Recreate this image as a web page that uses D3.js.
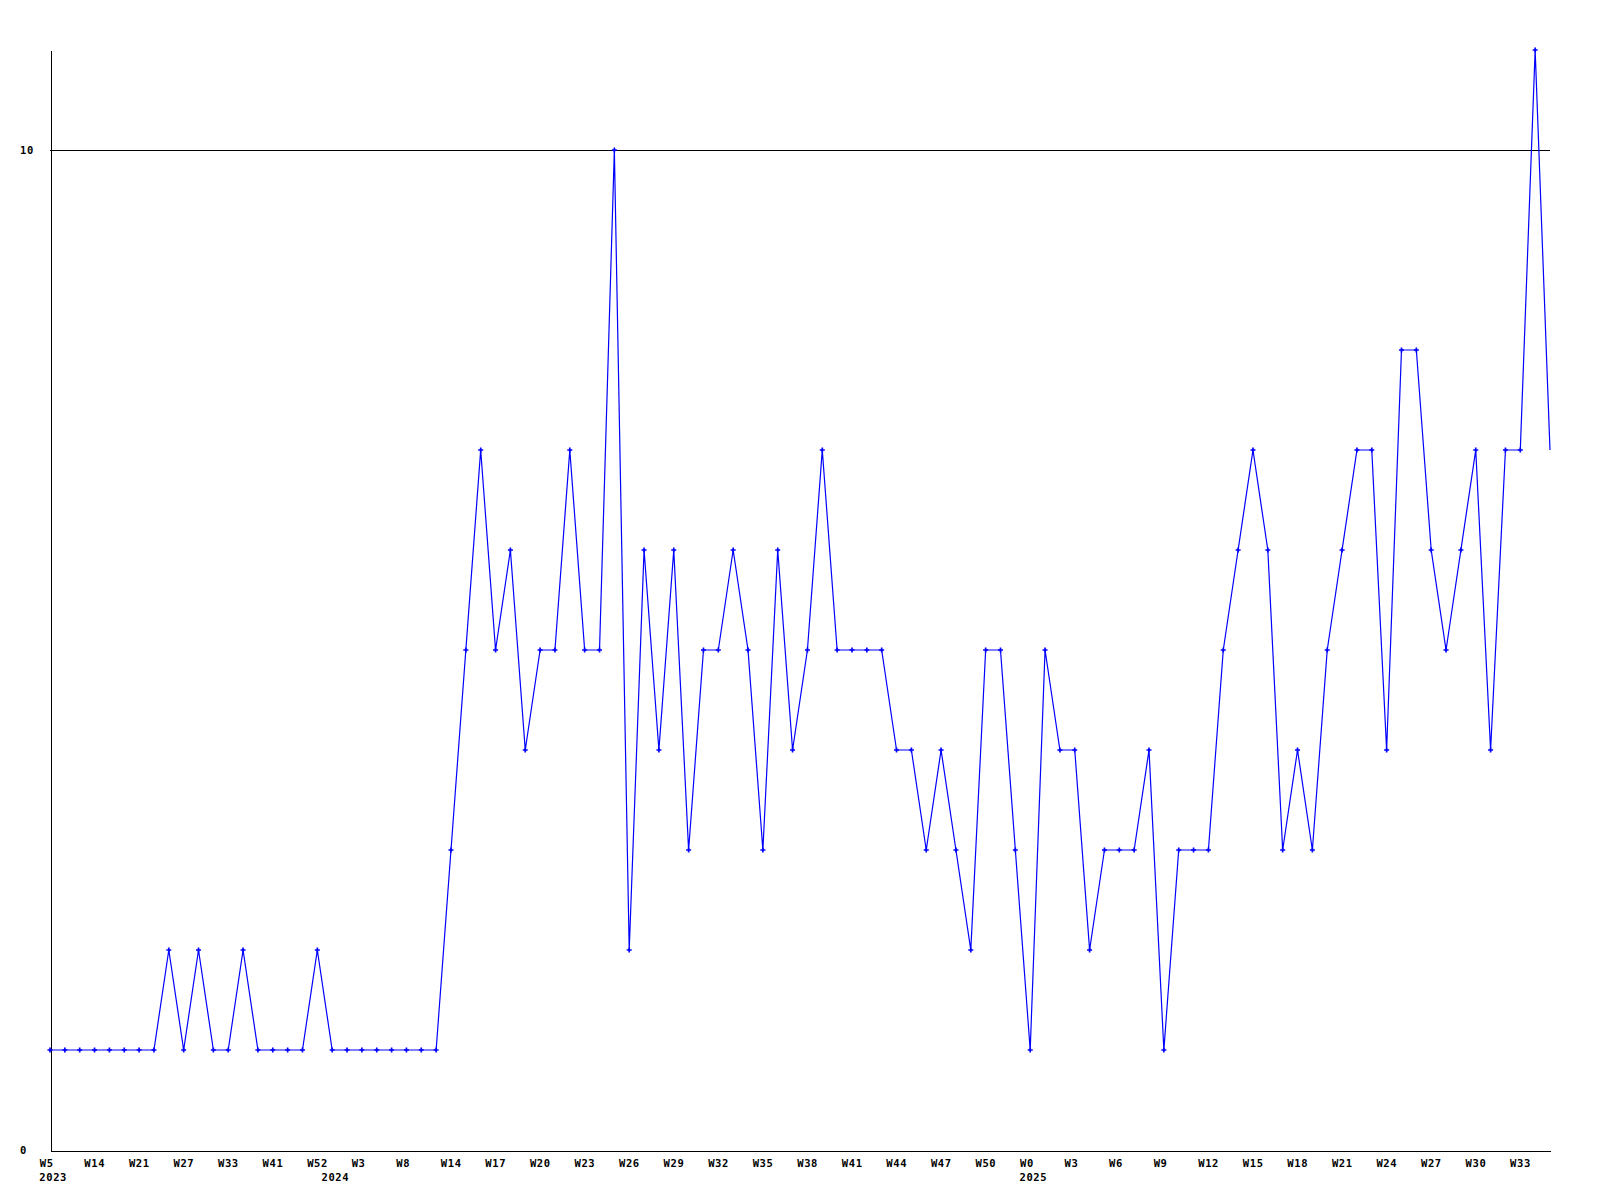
<!DOCTYPE html>
<html>
<head>
<meta charset="utf-8">
<script src="https://cdn.jsdelivr.net/npm/d3@7"></script>
<style>
  html, body { margin: 0; padding: 0; background: #fff; }
  svg text { font-family: "DejaVu Sans Mono", "Liberation Mono", monospace; font-weight: bold; font-size: 10.5px; letter-spacing: 0.6px; fill: #000; }
</style>
</head>
<body>
<svg id="chart" width="1600" height="1200"></svg>
<script>
// Weekly values (one per week), last point is the current, unmarked week
const values = [1,1,1,1,1,1,1,1,2,1,2,1,1,2,1,1,1,1,2,1,1,1,1,1,1,1,1,
  3,5,7,5,6,4,5,5,7,5,5,10,2,6,4,6,3,5,5,6,5,3,6,4,5,7,5,5,5,5,4,4,3,4,3,2,
  5,5,3,1,5,4,4,2,3,3,3,4,1,3,3,3,5,6,7,6,3,4,3,5,6,7,7,4,8,8,6,5,6,7,4,7,7,11,7];

// Week labels shown every third point
const weekLabels = ["W5","W14","W21","W27","W33","W41","W52","W3","W8","W14","W17","W20",
  "W23","W26","W29","W32","W35","W38","W41","W44","W47","W50","W0","W3","W6","W9",
  "W12","W15","W18","W21","W24","W27","W30","W33"];
const weekLabelStep = 3;

// Year labels and the point index where each year starts
const yearNames = ["2023","2024","2025"];
const yearStarts = [0, 19, 66];

// Y axis tick values
const yTicks = [0, 10];

const svg = d3.select("#chart");
const x = d3.scaleLinear().domain([0, values.length - 1]).range([50, 1550]);
const y = d3.scaleLinear().domain([0, 11]).range([1150, 50]);

// Grid line at 10
svg.append("line")
  .attr("x1", x(0)).attr("x2", x(values.length - 1))
  .attr("y1", Math.round(y(10)) + 0.5).attr("y2", Math.round(y(10)) + 0.5)
  .attr("stroke", "#000").attr("stroke-width", 1).attr("shape-rendering", "crispEdges");

// Axes
const tickIdx = weekLabels.map((d, i) => i * weekLabelStep);
const xAxis = d3.axisBottom(x).tickValues(tickIdx).tickSize(0)
  .tickFormat((d, i) => weekLabels[i]);
const gx = svg.append("g").attr("transform", "translate(0,1150.5)").call(xAxis);
gx.select(".domain").attr("stroke", "#000").attr("shape-rendering", "crispEdges");
gx.selectAll(".tick text")
  .attr("text-anchor", "start").attr("x", -10.7).attr("y", 12.5).attr("dy", "0.35em")
  .style("font-family", null).style("font-size", null);
gx.attr("font-family", null).attr("font-size", null);

const yAxis = d3.axisLeft(y).tickValues(yTicks).tickSize(0).tickFormat(d3.format("d"));
const gy = svg.append("g").attr("transform", "translate(50.5,0)").call(yAxis);
gy.attr("font-family", null).attr("font-size", null);
gy.select(".domain").attr("stroke", "#000").attr("shape-rendering", "crispEdges");
gy.selectAll(".tick text")
  .attr("text-anchor", "start").attr("x", -30.5).attr("dy", "0.35em");

// Year labels
svg.append("g").selectAll("text").data(yearNames).join("text")
  .attr("x", (d, i) => x(yearStarts[i]) - 10.7)
  .attr("y", 1177).attr("dy", "0.35em")
  .text(d => d);

// Line
const line = d3.line().x((d, i) => x(i)).y(d => y(d));
svg.append("path").datum(values)
  .attr("d", line).attr("fill", "none").attr("stroke", "#0000ff").attr("stroke-width", 1.2);

// Markers (all but the last, current week)
const cross = d3.symbol().type(d3.symbolCross).size(14);
svg.append("g").selectAll("path").data(values.slice(0, -1)).join("path")
  .attr("transform", (d, i) => `translate(${x(i)},${y(d)})`)
  .attr("d", cross).attr("fill", "#0000ff");
</script>
</body>
</html>
